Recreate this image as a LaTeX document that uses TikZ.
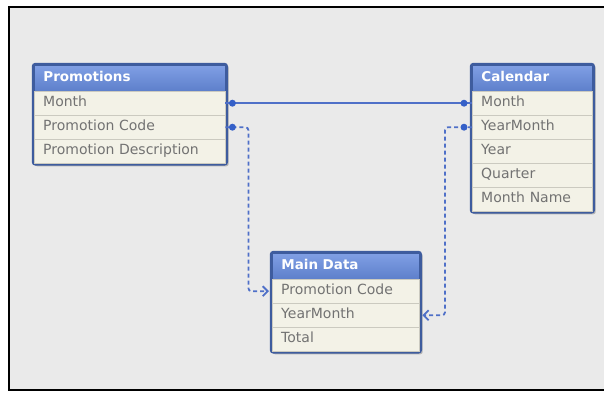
\documentclass[tikz,border=0pt]{standalone}
\usepackage{fontspec}
\setmainfont{DejaVu Sans}
\usetikzlibrary{fit,shadows,backgrounds,arrows.meta}
\definecolor{hdrtop}{HTML}{809FE4}
\definecolor{hdrbot}{HTML}{5D7FCB}
\definecolor{tblborder}{HTML}{3E5C9E}
\definecolor{rowfill}{HTML}{F3F2E7}
\definecolor{rowline}{HTML}{CBCAC0}
\definecolor{rowtext}{HTML}{727272}
\definecolor{bggray}{HTML}{EAEAEA}
\definecolor{linkblue}{HTML}{4F70C8}
\definecolor{dotblue}{HTML}{3560C8}
\begin{document}
\begin{tikzpicture}[
    x=1pt, y=-1pt,
    tblhead/.style={rectangle, anchor=north west, top color=hdrtop,
      bottom color=hdrbot, draw=tblborder, line width=0.8pt,
      text=white, text width=#1, align=left,
      font=\fontsize{13.5}{15}\selectfont\bfseries,
      inner xsep=9pt, inner ysep=0pt, minimum height=26pt,
      text height=10pt, text depth=3pt},
    tblrow/.style={rectangle, anchor=north west, fill=rowfill,
      draw=rowline, text=rowtext, text width=#1, align=left,
      font=\fontsize{14}{16}\selectfont,
      inner xsep=9pt, inner ysep=0pt, minimum height=24pt,
      text height=10pt, text depth=3pt},
    tblframe/.style={rectangle, draw=tblborder, fill=tblborder,
      line width=2.2pt, rounded corners=2.5pt, inner sep=1.1pt,
      drop shadow={shadow xshift=1.8pt, shadow yshift=-1.8pt,
        opacity=0.5}},
    link/.style={draw=linkblue, line width=1.8pt},
    fklink/.style={link, dash pattern=on 4pt off 3pt,
      rounded corners=3pt, shorten >=3pt,
      -{Straight Barb[length=5pt,width=10pt,line width=1.8pt]}},
    dot/.style={circle, fill=dotblue, inner sep=0pt, minimum size=7pt}
  ]
    \useasboundingbox (0,0) rectangle (604,392);

    % Promotions
    \node[tblhead=173] (promo) at (34,65) {Promotions};
    \node[tblrow=173] (promoMonth) at (34,91) {Month};
    \node[tblrow=173] (promoCode) at (34,115) {Promotion Code};
    \node[tblrow=173] (promoDesc) at (34,139) {Promotion Description};

    % Calendar
    \node[tblhead=102] (cal) at (472,65) {Calendar};
    \node[tblrow=102] (calMonth) at (472,91) {Month};
    \node[tblrow=102] (calYM) at (472,115) {YearMonth};
    \node[tblrow=102] (calYear) at (472,139) {Year};
    \node[tblrow=102] (calQtr) at (472,163) {Quarter};
    \node[tblrow=102] (calMName) at (472,187) {Month Name};

    % Main Data
    \node[tblhead=129] (main) at (272,253) {Main Data};
    \node[tblrow=129] (mainCode) at (272,279) {Promotion Code};
    \node[tblrow=129] (mainYM) at (272,303) {YearMonth};
    \node[tblrow=129] (mainTotal) at (272,327) {Total};

    % Rahmen
    \begin{scope}[on background layer]
      \draw[line width=2pt, fill=bggray] (9,6.5) rectangle (612,389.5);
      \node[tblframe, fit=(promo)(promoDesc)] (promoBox) {};
      \node[tblframe, fit=(cal)(calMName)] (calBox) {};
      \node[tblframe, fit=(main)(mainTotal)] (mainBox) {};
    \end{scope}

    % Verbindungen
    \draw[link] (promoMonth.east) -- (calMonth.west);
    \draw[fklink] (promoCode.east) -- ++(23,0) |- (mainCode.west);
    \draw[fklink] (calYM.west) -- ++(-27,0) |- (mainYM.east);

    \node[dot] (dotA) at ([xshift=7pt]promoMonth.east) {};
    \node[dot] (dotB) at ([xshift=7pt]promoCode.east) {};
    \node[dot] (dotC) at ([xshift=-8pt]calMonth.west) {};
    \node[dot] (dotD) at ([xshift=-8pt]calYM.west) {};
  \end{tikzpicture}
\end{document}
